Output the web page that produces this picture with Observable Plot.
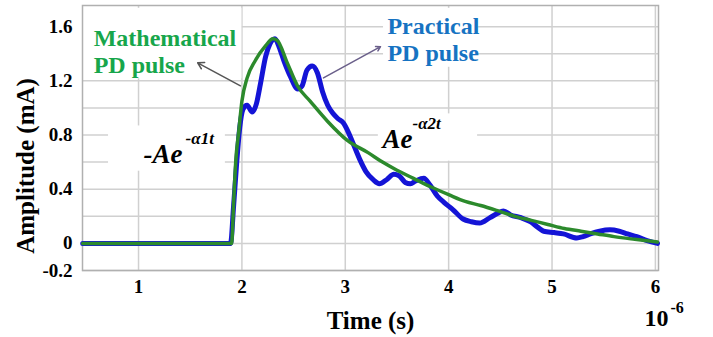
<!DOCTYPE html>
<html><head><meta charset="utf-8">
<script src="https://cdn.jsdelivr.net/npm/d3@7"></script>
<script src="https://cdn.jsdelivr.net/npm/@observablehq/plot@0.6"></script>
<style>
html,body{margin:0;padding:0;background:#fff;}
#chart svg{display:block;}
#chart svg text{font-family:"Liberation Serif","Times New Roman",serif;font-weight:bold;}
</style></head><body><div id="chart"></div>
<script>
// Practical PD pulse (measured) — time in µs, amplitude in mA
const practicalTime = [0.46,1.0,1.5,1.89,1.92,1.95,1.98,2.01,2.05,2.10,2.14,2.18,2.23,2.27,2.32,2.36,2.41,2.47,2.54,2.58,2.63,2.68,2.73,2.78,2.83,2.88,2.93,2.98,3.03,3.08,3.14,3.20,3.27,3.33,3.40,3.47,3.52,3.58,3.63,3.68,3.76,3.82,3.89,3.96,4.04,4.14,4.22,4.30,4.40,4.47,4.53,4.60,4.70,4.79,4.86,4.92,5.02,5.11,5.24,5.30,5.37,5.46,5.56,5.65,5.73,5.82,5.92,6.02];
const practicalAmp  = [0.0,0.0,0.0,0.0,0.28,0.6,0.86,0.99,1.02,0.97,1.03,1.18,1.38,1.47,1.51,1.45,1.34,1.23,1.14,1.16,1.28,1.31,1.26,1.12,1.02,0.96,0.92,0.89,0.82,0.73,0.62,0.53,0.47,0.44,0.47,0.51,0.50,0.45,0.44,0.46,0.48,0.43,0.35,0.30,0.25,0.18,0.16,0.15,0.19,0.22,0.24,0.21,0.19,0.16,0.12,0.09,0.08,0.07,0.04,0.05,0.07,0.09,0.10,0.09,0.07,0.05,0.02,0.0];
// Mathematical PD pulse (double exponential)
const mathTime = [0.46,1.0,1.5,1.90,1.92,1.94,1.97,2.00,2.05,2.13,2.23,2.30,2.34,2.44,2.54,2.66,2.83,3.02,3.22,3.36,3.50,3.66,3.82,4.00,4.16,4.31,4.48,4.64,4.80,4.96,5.12,5.28,5.44,5.60,5.80,6.02];
const mathAmp  = [0.0,0.0,0.0,0.0,0.3,0.6,0.83,1.05,1.22,1.35,1.46,1.51,1.50,1.33,1.16,1.05,0.90,0.76,0.67,0.60,0.54,0.48,0.42,0.36,0.31,0.28,0.24,0.20,0.17,0.14,0.11,0.09,0.07,0.05,0.03,0.01];
const xTicks = [1,2,3,4,5,6];
const yTickLabels = [1.6,1.2,0.8,0.4,0,-0.2];
const yGridValues = [-0.2,0,0.2,0.4,0.6,0.8,1.0,1.2,1.4,1.6];

const practical = practicalTime.map((t,i)=>({t, a: practicalAmp[i]}));
const math = mathTime.map((t,i)=>({t, a: mathAmp[i]}));

const serif = "'Liberation Serif','Times New Roman',serif";
const boxes = [
  {x1:0.46,x2:2.0,y1:1.215,y2:1.735},
  {x1:3.37,x2:4.29,y1:1.30,y2:1.735},
  {x1:0.71,x2:1.84,y1:0.533,y2:0.867},
  {x1:3.32,x2:4.28,y1:0.607,y2:0.956}
];

const plot = Plot.plot({
  width: 713, height: 337,
  marginLeft: 82, marginRight: 55, marginTop: 5, marginBottom: 67,
  style: {fontFamily: serif, background: "#fff", color: "#000", overflow: "visible"},
  x: {domain: [0.458, 6.03]},
  y: {domain: [-0.2, 1.756]},
  marks: [
    Plot.gridX(xTicks, {stroke: "#d0d0d0", strokeOpacity: 1, strokeWidth: 1.5}),
    Plot.gridY(yGridValues, {stroke: "#d0d0d0", strokeOpacity: 1, strokeWidth: 1.5}),
    Plot.rect(boxes, {x1:"x1", x2:"x2", y1:"y1", y2:"y2", fill: "#fff"}),
    Plot.frame({stroke: "#b0b0b0", strokeWidth: 1.5}),
    Plot.axisX(xTicks, {tickSize: 0, tickPadding: 9, fontSize: 19, fontWeight: "bold", label: null, tickFormat: d => String(d)}),
    Plot.axisY(yTickLabels, {tickSize: 0, tickPadding: 10, fontSize: 19, fontWeight: "bold", label: null, tickFormat: d => String(d)}),
    Plot.line(practical, {x: "t", y: "a", stroke: "#1414d6", strokeWidth: 5, curve: "monotone-x"}),
    Plot.line(math, {x: "t", y: "a", stroke: "#2c8a2c", strokeWidth: 3.5, curve: "monotone-x"}),
    Plot.arrow([{x1:1.986,y1:1.163,x2:1.572,y2:1.333}], {x1:"x1",y1:"y1",x2:"x2",y2:"y2", stroke:"#555", strokeWidth:1.5, headLength:7}),
    Plot.arrow([{x1:2.789,y1:1.222,x2:3.341,y2:1.452}], {x1:"x1",y1:"y1",x2:"x2",y2:"y2", stroke:"#6a5f8a", strokeWidth:1.5, headLength:5}),
    Plot.text([{t:0.566,a:1.259}], {x:"t", y:"a", text: () => "Mathematical\nPD pulse", fill:"#17a64b", fontSize: 24, fontWeight:"bold", textAnchor:"start", lineAnchor:"bottom", lineHeight: 1.12}),
    Plot.text([{t:3.408,a:1.348}], {x:"t", y:"a", text: () => "Practical\nPD pulse", fill:"#1673c2", fontSize: 24, fontWeight:"bold", textAnchor:"start", lineAnchor:"bottom", lineHeight: 1.12}),
    Plot.text([{t:1.048,a:0.593}], {x:"t", y:"a", text: () => "-Ae", fontSize: 27, fontWeight:"bold", fontStyle:"italic", textAnchor:"start", lineAnchor:"bottom"}),
    Plot.text([{t:1.455,a:0.733}], {x:"t", y:"a", text: () => "-α1t", fontSize: 17, fontWeight:"bold", fontStyle:"italic", textAnchor:"start", lineAnchor:"bottom"}),
    Plot.text([{t:3.36,a:0.704}], {x:"t", y:"a", text: () => "Ae", fontSize: 27, fontWeight:"bold", fontStyle:"italic", textAnchor:"start", lineAnchor:"bottom"}),
    Plot.text([{t:3.65,a:0.844}], {x:"t", y:"a", text: () => "-α2t", fontSize: 17, fontWeight:"bold", fontStyle:"italic", textAnchor:"start", lineAnchor:"bottom"}),
    Plot.text(["Amplitude (mA)"], {frameAnchor:"left", rotate:-90, dx:-57, dy:28, fontSize:25, fontWeight:"bold", textAnchor:"middle", lineAnchor:"middle"}),
    Plot.text(["Time (s)"], {frameAnchor:"bottom", dy:50, fontSize:25, fontWeight:"bold", textAnchor:"middle", lineAnchor:"middle"}),
    Plot.text(["10"], {frameAnchor:"bottom-right", dx:-2, dy:48, fontSize:24, fontWeight:"bold", textAnchor:"middle", lineAnchor:"middle"}),
    Plot.text(["-6"], {frameAnchor:"bottom-right", dx:12, dy:37, fontSize:16, fontWeight:"bold", textAnchor:"start", lineAnchor:"middle"})
  ]
});
document.getElementById("chart").appendChild(plot);
</script>
</body></html>
